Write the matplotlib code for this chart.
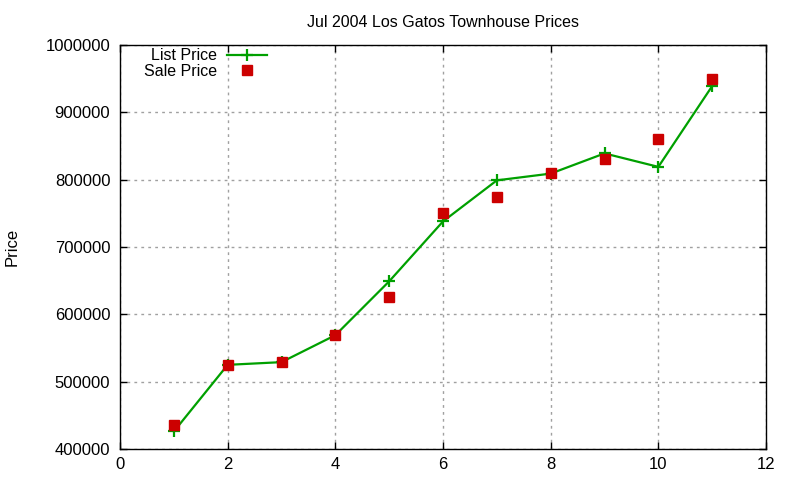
import matplotlib
matplotlib.use("Agg")
import matplotlib.pyplot as plt
from matplotlib.ticker import FixedLocator

# ---------------------------- Chart Data ---------------------------- #
months = [1, 2, 3, 4, 5, 6, 7, 8, 9, 10, 11]
listPrice = [426000, 525000, 529000, 569000, 649000, 738000, 799000, 809000, 839000, 819000, 939000]
salePrice = [435000, 525000, 529000, 569000, 625000, 750000, 775000, 810000, 830000, 860000, 949000]
xTicks = [0, 2, 4, 6, 8, 10, 12]
yTicks = [400000, 500000, 600000, 700000, 800000, 900000, 1000000]

plt.rcParams['font.family'] = ['Liberation Sans', 'DejaVu Sans']
plt.rcParams['font.size'] = 12

# Create the figure (gnuplot-like look)
figure = plt.figure(figsize=(8, 4.8), dpi=100)
ax = figure.add_axes([120/800, 1 - 449/480, (766-120)/800, (449-45)/480])

# Plot the data
ax.plot(months, listPrice, color='#00a000', linewidth=1.6, marker='+', markersize=8,
        markeredgewidth=1.6, label='List Price')
ax.plot(months, salePrice, color='#cc0000', linestyle='none', marker='s', markersize=6.5,
        label='Sale Price')

# Axes limits and ticks
ax.set_xlim(0, 12)
ax.set_ylim(400000, 1000000)
ax.xaxis.set_major_locator(FixedLocator(xTicks))
ax.yaxis.set_major_locator(FixedLocator(yTicks))
ax.set_yticklabels([str(v) for v in yTicks])
ax.tick_params(direction='in', top=True, right=True, length=5, width=1, labelsize=12)
ax.tick_params(axis='y', pad=7)
ax.tick_params(axis='x', pad=6)
for spine in ax.spines.values():
    spine.set_linewidth(1)
ax.grid(True, color='#a0a0a0', linestyle=(0, (2, 3)), linewidth=1)

# Labels
ax.set_title('Jul 2004 Los Gatos Townhouse Prices', fontsize=11.5, pad=13)
figure.text(12/800, 1 - 247/480, 'Price', rotation=90, va='center', ha='center', fontsize=12)

# Legend (gnuplot style: text then sample)
legend = ax.legend(loc='upper left', bbox_to_anchor=(0.02, 1.02), frameon=False,
                   markerfirst=False, handlelength=2.5, handletextpad=0.6, fontsize=11.5,
                   labelspacing=0.05, borderaxespad=0.3)
for text in legend.get_texts():
    text.set_ha('right')
    text.set_position((0, 0))

plt.savefig('out.png', dpi=100)
